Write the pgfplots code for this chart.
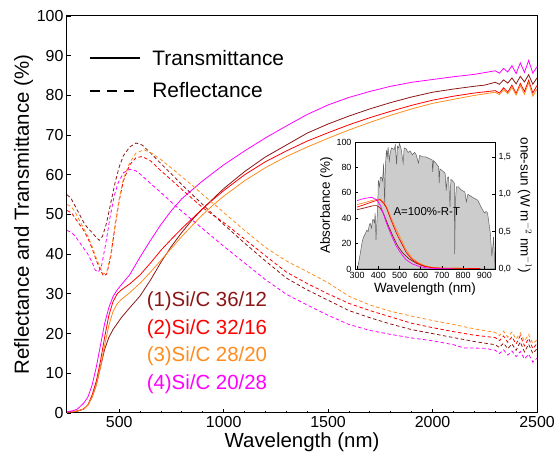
\documentclass[border=0pt]{standalone}
\usepackage{fontspec}
\setmainfont{Liberation Sans}
\usepackage{pgfplots}
\pgfplotsset{compat=1.18}
\definecolor{cbrown}{RGB}{140,22,22}
\definecolor{cred}{RGB}{255,0,0}
\definecolor{corange}{RGB}{255,140,30}
\definecolor{cmag}{RGB}{255,0,255}
\begin{document}
\begin{tikzpicture}
\useasboundingbox (-67bp,-49bp) rectangle (489bp,413bp);
\begin{axis}[name=main, at={(0,0)}, anchor=south west, scale only axis,
 width=470bp, height=397bp,
 xmin=250, xmax=2500, ymin=0, ymax=100,
 xtick={500,1000,1500,2000,2500}, minor x tick num=4,
 ytick={0,10,...,100},
 tick align=inside, xtick pos=bottom, ytick pos=left,
 major tick length=4.5bp, minor tick length=2.5bp,
 axis line style={line width=1bp},
 every tick/.style={line width=0.8bp, black},
 tick label style={font=\fontsize{16}{18}\selectfont},
 /pgf/number format/assume math mode=true,
 /pgf/number format/set thousands separator={},
 xlabel={Wavelength (nm)}, ylabel={Reflectance and Transmittance (\%)},
 label style={font=\fontsize{20.5}{24}\selectfont},
 xlabel style={yshift=2bp}, ylabel style={yshift=-3bp},
 legend style={at={(0.041,0.925)}, anchor=north west, draw=none, fill=none,
   font=\fontsize{21}{24}\selectfont, row sep=12bp},
 legend cell align=left,
 legend image code/.code={\path[draw=none] (0bp,0bp) -- (60bp,0bp);\draw[#1, line width=1.8bp] (0bp,0bp) -- (50bp,0bp);},
]
\addlegendimage{black}
\addlegendentry{Transmittance}
\addlegendimage{black, dash pattern=on 10bp off 7bp}
\addlegendentry{Reflectance}

% ---------- Transmittance ----------
\addplot[cbrown, line width=0.8bp, forget plot] coordinates {
(250,0.2)(280,0.3)(300,0.5)(330,1)(350,2)(370,4)(390,7)(410,11.5)(430,16)(450,19)(470,21)(490,22.5)(510,24)(550,26.5)(600,29.5)(650,33.5)(700,38)(750,42)(800,45.5)(850,48.7)(900,51.5)(950,54)(1000,56.5)(1100,60.8)(1200,64.5)(1300,67.5)(1400,70.5)(1500,72.8)(1600,74.8)(1700,76.6)(1800,78.2)(1900,79.6)(2000,80.8)(2100,81.6)(2200,82.3)(2250,82.6)
(2300,83.3)(2320,82.8)(2340,83.9)(2360,83.1)(2380,84.4)(2400,82.9)(2420,84.8)(2440,83.4)(2460,85.2)(2480,82.8)(2500,84.4)};
\addplot[cred, line width=0.8bp, forget plot] coordinates {
(250,0.2)(280,0.3)(300,0.5)(330,1)(350,2)(370,4.5)(390,8)(410,13)(430,19)(450,24.5)(470,28)(490,30)(510,31)(550,32.5)(600,34.8)(650,37.8)(700,41)(750,43.8)(800,46.5)(850,49)(900,51.5)(950,53.8)(1000,56)(1100,60)(1200,63.3)(1300,66)(1400,68.5)(1500,70.6)(1600,72.6)(1700,74.4)(1800,76)(1900,77.5)(2000,78.8)(2100,79.8)(2200,80.6)
(2300,81.2)(2320,80.6)(2340,81.9)(2360,80.8)(2380,82.6)(2400,80.5)(2420,83)(2440,81)(2460,83.8)(2480,80.6)(2500,82.5)};
\addplot[corange, line width=0.8bp, forget plot] coordinates {
(250,0.2)(300,0.5)(330,1)(350,2)(370,4)(390,7)(410,11.5)(430,17)(450,22)(470,25.5)(490,27.5)(510,28.6)(550,30.3)(600,32.7)(650,35.5)(700,38.5)(750,41.5)(800,44.5)(850,47.3)(900,50)(950,52.4)(1000,54.6)(1100,58.5)(1200,61.8)(1300,64.6)(1400,67)(1500,69.2)(1600,71.3)(1700,73.2)(1800,75)(1900,76.6)(2000,78)(2100,79)(2200,80)
(2300,80.8)(2320,80.2)(2340,81.4)(2360,80.4)(2380,82)(2400,80.1)(2420,82.5)(2440,80.3)(2460,83.2)(2480,79.8)(2500,81.6)};
\addplot[cmag, line width=0.8bp, forget plot] coordinates {
(250,0.3)(280,0.6)(300,1)(330,2.5)(350,4)(370,7)(390,11.5)(410,17)(430,22.5)(450,26.5)(470,29.3)(490,31)(510,32.3)(550,34.8)(600,39.3)(650,43.5)(700,47.5)(750,51)(800,54)(900,58.5)(1000,62.5)(1100,66)(1200,69.3)(1300,72.3)(1400,75.2)(1500,77.6)(1600,79.5)(1700,81)(1800,82.3)(1900,83.3)(2000,84)(2100,84.7)(2200,85.3)
(2300,86.2)(2320,85.6)(2340,86.8)(2360,85.9)(2380,87.5)(2400,85.5)(2420,88.2)(2440,85.8)(2460,88.8)(2480,85.6)(2500,87.2)};

% ---------- Reflectance ----------
\addplot[cbrown, line width=0.8bp, dash pattern=on 3.5bp off 2.5bp, forget plot] coordinates {
(250,55)(270,54)(290,52)(310,50)(330,48)(350,46.5)(370,45.5)(390,44.2)(405,43.5)(420,44.5)(440,48)(460,53)(480,58)(500,62)(520,64.8)(550,67)(580,68)(610,67.5)(650,65.5)(700,62.8)(750,60.2)(800,57.5)(850,55)(900,52.5)(950,50)(1000,47.5)(1100,42.8)(1200,38.3)(1300,34)(1400,31)(1500,28.4)(1600,25.8)(1700,24)(1800,22.4)(1900,21)(2000,20)(2100,19)(2200,18)(2250,17.6)
(2300,17.2)(2320,16.5)(2340,17.6)(2360,16.2)(2380,17.4)(2400,15.8)(2420,17.9)(2440,15.4)(2460,17.3)(2480,15)(2500,16.2)};
\addplot[cred, line width=0.8bp, dash pattern=on 3.5bp off 2.5bp, forget plot] coordinates {
(250,51)(270,50.5)(290,49)(310,47.5)(330,46)(350,44)(370,41.5)(390,38.5)(410,36)(425,34.5)(440,35)(460,39.5)(480,47)(500,53.5)(520,58.5)(550,62.5)(580,64.3)(610,64.6)(650,63.5)(700,61)(750,58.7)(800,56.3)(850,54)(900,51.7)(950,49.8)(1000,48)(1100,43.8)(1200,39.6)(1300,35.5)(1400,32.6)(1500,30)(1600,27.6)(1700,25.8)(1800,24.2)(1900,22.6)(2000,21.5)(2100,20.5)(2200,19.6)
(2300,19)(2320,18.2)(2340,19.4)(2360,17.8)(2380,19.2)(2400,17.4)(2420,19.5)(2440,16.9)(2460,18.8)(2480,16.2)(2500,17.5)};
\addplot[corange, line width=0.8bp, dash pattern=on 3.5bp off 2.5bp, forget plot] coordinates {
(250,52.5)(270,52)(290,50.5)(310,48.5)(330,46.5)(350,44.5)(370,42)(390,39)(410,36.5)(425,35)(440,35.5)(460,40)(480,47.5)(500,54)(520,59)(550,63)(580,65.5)(620,66.3)(660,65.3)(700,63.8)(750,61.7)(800,59.5)(850,57.3)(900,55)(950,52.8)(1000,50.5)(1100,46)(1200,41.7)(1300,38.3)(1400,35.6)(1500,32.8)(1600,29.4)(1700,27.2)(1800,25.6)(1900,24.4)(2000,23.3)(2100,22.3)(2200,21.2)
(2300,20.3)(2320,19.5)(2340,20.6)(2360,19.1)(2380,20.4)(2400,18.6)(2420,20.2)(2440,18.1)(2460,19.8)(2480,17.5)(2500,18.4)};
\addplot[cmag, line width=0.8bp, dash pattern=on 3.5bp off 2.5bp, forget plot] coordinates {
(250,46)(270,45.5)(290,44.5)(310,43)(330,41.5)(350,40)(370,38)(385,36)(400,35.5)(415,37)(435,42.5)(455,49)(475,54.5)(495,58)(520,60.5)(550,61.4)(580,61)(600,60.2)(650,57.8)(700,55.5)(750,53.1)(800,50.8)(850,48.6)(900,46.4)(950,44.2)(1000,42)(1100,37.8)(1200,33.6)(1300,29.9)(1400,27.2)(1500,24.6)(1600,22.3)(1700,20.8)(1800,19.8)(1900,18.9)(2000,18.2)(2100,17.2)(2150,16.4)(2250,16.3)
(2300,15.8)(2320,15)(2340,15.9)(2360,14.6)(2380,15.6)(2400,14.2)(2420,15.5)(2440,13.6)(2460,14.8)(2480,12.8)(2500,13.8)};

\node[anchor=west, text=cbrown, font=\fontsize{20.5}{24}\selectfont] at (axis cs:615,28.2) {(1)Si/C 36/12};
\node[anchor=west, text=cred, font=\fontsize{20.5}{24}\selectfont] at (axis cs:615,21.2) {(2)Si/C 32/16};
\node[anchor=west, text=corange, font=\fontsize{20.5}{24}\selectfont] at (axis cs:615,14.2) {(3)Si/C 28/20};
\node[anchor=west, text=cmag, font=\fontsize{20.5}{24}\selectfont] at (axis cs:615,7.2) {(4)Si/C 20/28};
\end{axis}

% ---------- Inset: solar spectrum (right axis) ----------
\begin{axis}[at={(288bp,144bp)}, anchor=south west, scale only axis,
 width=140bp, height=127bp,
 xmin=290, xmax=950, ymin=0, ymax=1.7,
 axis background/.style={fill=white},
 xtick=\empty,
 ytick={0,0.5,1,1.5}, ytick pos=right, yticklabel pos=right,
 tick align=inside, major tick length=2.5bp,
 axis line style={line width=0.7bp},
 every tick/.style={line width=0.6bp, black},
 tick label style={font=\fontsize{9}{10}\selectfont},
 /pgf/number format/assume math mode=true,
 /pgf/number format/.cd, use comma, fixed, fixed zerofill, precision=1, /pgfplots/.cd,
 ylabel={one-sun (W m$^{-2}$ nm$^{-1}$)}, ylabel near ticks,
 ylabel style={rotate=180, font=\fontsize{13.5}{15}\selectfont},
]
\addplot[fill=black!20, draw=black!62, line width=0.5bp] coordinates {
(300,0)(305,0.05)(315,0.21)(320,0.3)(325,0.38)(331,0.43)(338,0.47)(346,0.52)(352,0.5)(358,0.6)(362,0.61)(368,0.55)(373,0.66)(377,0.66)(382,0.62)(385,0.75)(389,0.39)(393,0.62)(397,0.8)(400,1.19)(405,1.1)(410,1.23)(415,1.23)(420,1.18)(425,1.41)(430,0.85)(433,1.35)(438,1.59)(442,1.5)(446,1.63)(452,1.45)(456,1.55)(462,1.62)(469,1.61)(475,1.6)(480,1.66)(486,1.4)(490,1.64)(495,1.62)(500,1.68)(508,1.6)(517,1.42)(522,1.62)(531,1.61)(540,1.56)(550,1.58)(560,1.53)(570,1.56)(577,1.54)(589,1.42)(595,1.52)(610,1.5)(623,1.5)(640,1.48)(654,1.46)(656,1.3)(660,1.45)(670,1.42)(684,1.37)(687,1.15)(690,1.34)(700,1.32)(715,1.28)(720,1.05)(725,1.22)(731,1.23)(738,0.83)(742,1.2)(750,1.18)(758,1.15)(760,0.2)(763,0.9)(768,1.1)(777,1.1)(790,1.06)(808,1.03)(815,0.9)(822,1.0)(838,0.97)(850,0.95)(869,0.92)(884,0.83)(900,0.75)(908,0.77)(915,0.75)(922,0.6)(928,0.48)(935,0.17)(940,0.3)(943,0.43)(946,0.25)(949,0.08)} \closedcycle;
\end{axis}

% ---------- Inset: absorbance (left axis) ----------
\begin{axis}[at={(288bp,144bp)}, anchor=south west, scale only axis,
 width=140bp, height=127bp,
 xmin=290, xmax=950, ymin=0, ymax=100,
 xtick={300,400,...,900}, ytick={0,20,...,100},
 xtick pos=bottom, ytick pos=left,
 tick align=inside, major tick length=2.5bp,
 axis line style={line width=0.7bp},
 every tick/.style={line width=0.6bp, black},
 tick label style={font=\fontsize{9}{10}\selectfont},
 /pgf/number format/assume math mode=true,
 xlabel={Wavelength (nm)}, ylabel={Absorbance (\%)},
 label style={font=\fontsize{13.5}{15}\selectfont},
 xlabel style={yshift=3bp}, ylabel style={yshift=-3bp},
]
\addplot[cbrown, line width=0.7bp] coordinates {
(300,46.7)(340,48.3)(377,49.9)(392,49.9)(408,48.3)(423,44.1)(445,35)(469,25.7)(490,18.5)(515,12.6)(545,8)(577,4.7)(610,2.5)(654,1)(700,0.5)(800,0.3)(880,0.3)};
\addplot[corange, line width=0.7bp] coordinates {
(300,50.7)(340,52.5)(370,54)(392,54.8)(408,55.1)(425,52.5)(438,49.3)(460,40.5)(485,31)(510,22.5)(531,15.2)(560,8.5)(592,4.7)(620,2.6)(654,1.3)(700,0.7)(800,0.5)(880,0.4)};
\addplot[cred, line width=0.7bp] coordinates {
(300,48.8)(340,51)(370,52.8)(392,54)(408,54.6)(425,51.8)(438,48.3)(460,38.5)(485,28.3)(510,20)(531,13.1)(560,7.3)(592,3.9)(620,2.1)(654,1.0)(700,0.6)(800,0.5)(880,0.4)};
\addplot[cmag, line width=0.7bp] coordinates {
(300,53.8)(320,55)(346,55.9)(369,56.4)(392,54.6)(410,50)(425,43)(438,36.2)(460,27)(485,17.8)(510,11.5)(531,7.3)(560,4)(592,2.1)(620,1.1)(654,0.5)(700,0.2)(750,0.1)};
\node[anchor=west, font=\fontsize{11.5}{13}\selectfont] at (axis cs:455,45) {A=100\%-R-T};
\end{axis}
\end{tikzpicture}
\end{document}
